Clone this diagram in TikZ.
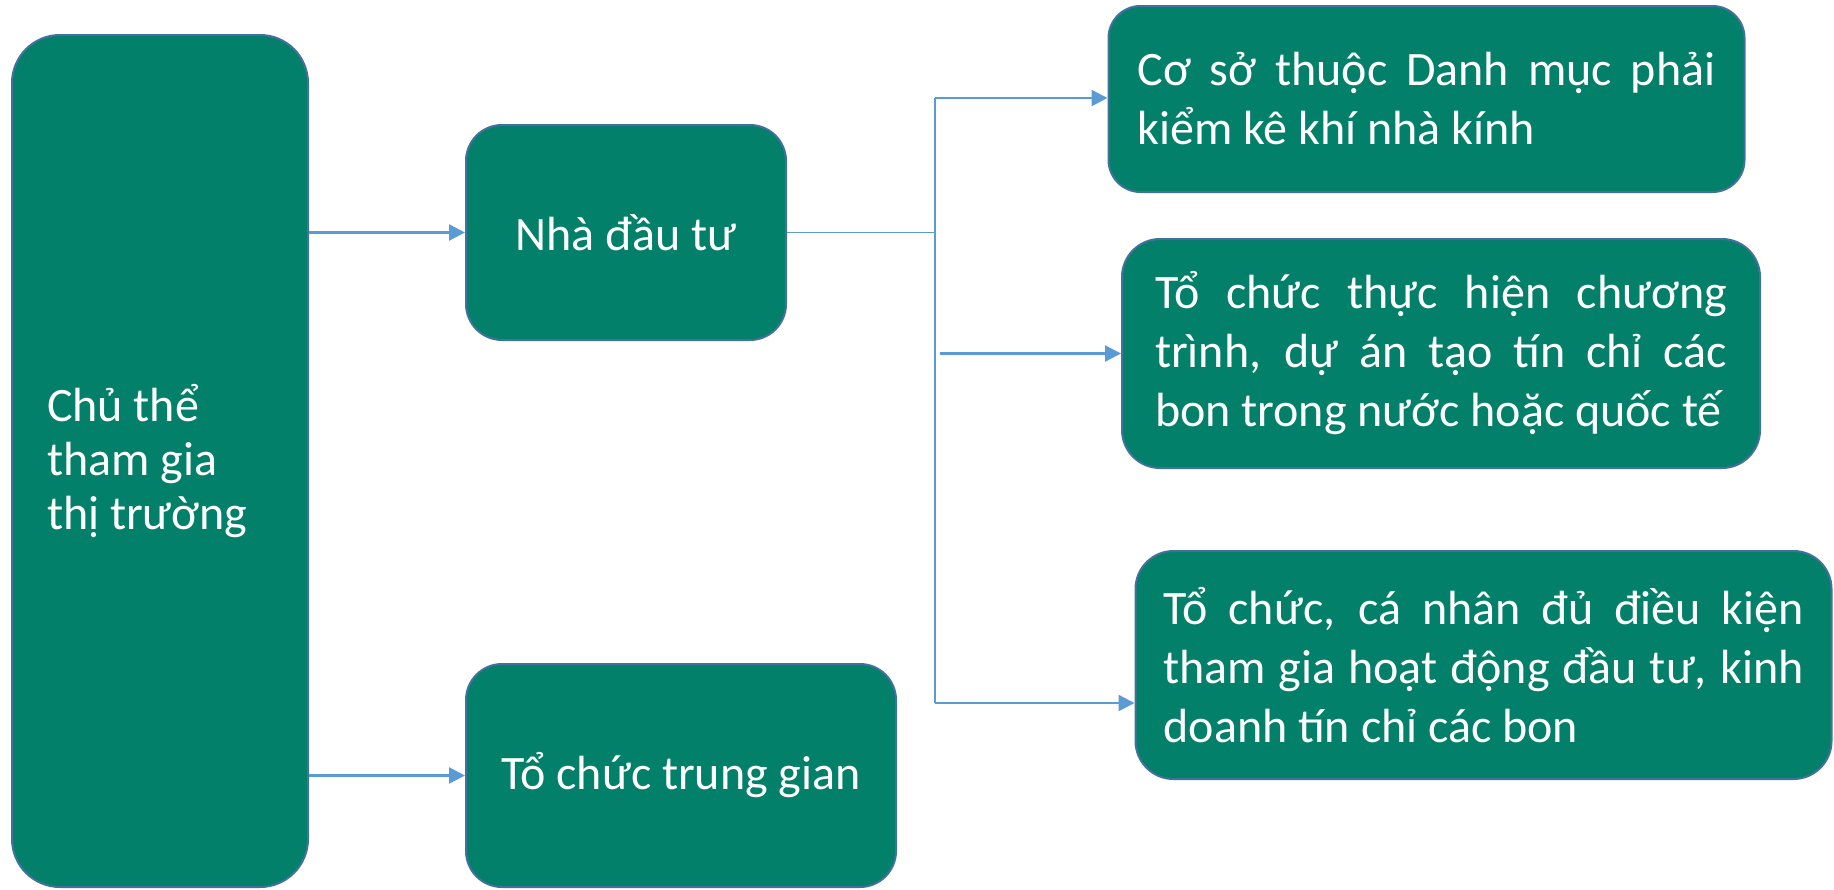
\documentclass[tikz,border=0pt]{standalone}
\usepackage{fontspec}
\setmainfont{Carlito}
\usetikzlibrary{arrows.meta}

\definecolor{boxgreen}{RGB}{2,128,106}
\definecolor{boxedge}{RGB}{65,113,156}
\definecolor{linkblue}{RGB}{91,155,213}

\begin{document}
\begin{tikzpicture}[x=0.5pt, y=-0.5pt,
  box/.style={draw=boxedge, line width=1pt, fill=boxgreen, text=white,
    font=\fontsize{24}{29.5}\selectfont, inner ysep=0pt},
  link/.style={draw=linkblue, line width=1.15pt, -{Triangle[length=8pt,width=8pt]}},
  bus/.style={draw=linkblue, line width=0.6pt}]
  % page frame
  \useasboundingbox (0,0) rectangle (1834,889);

  % left column
  \node[box, rounded corners=24pt, minimum height=426pt, text width=113pt, inner xsep=17.5pt,
    align=flush left, font=\fontsize{24}{27}\selectfont] (chuthe) at (160,461) {Chủ thể\\tham gia\\thị trường};

  % middle column
  \node[box, rounded corners=18pt, minimum width=160pt, minimum height=107.5pt] (nhadautu) at (626,232.5) {Nhà đầu tư};
  \node[box, rounded corners=18pt, minimum width=215pt, minimum height=111.5pt] (trunggian) at (681,775.5) {Tổ chức trung gian};

  % right column
  \node[box, rounded corners=16pt, text width=289pt, inner xsep=14.5pt, align=justify,
    minimum height=93pt] (coso) at (1426.5,99) {Cơ sở thuộc Danh mục phải\linebreak kiểm kê khí nhà kính};
  \node[box, rounded corners=19pt, text width=286pt, inner xsep=16.5pt, align=justify,
    minimum height=114.5pt] (thuchien) at (1441,353.5) {Tổ chức thực hiện chương\linebreak trình, dự án tạo tín chỉ các\linebreak bon trong nước hoặc quốc tế};
  \node[box, rounded corners=19pt, text width=320pt, inner xsep=14pt, align=justify,
    minimum height=114pt] (kinhdoanh) at (1483.5,665) {Tổ chức, cá nhân đủ điều kiện\linebreak tham gia hoạt động đầu tư, kinh\linebreak doanh tín chỉ các bon};

  % connectors
  \coordinate (bustop) at (935,98);
  \coordinate (busbot) at (935,703);
  \draw[link] (chuthe.east |- nhadautu.west) -- (nhadautu.west);
  \draw[link] (chuthe.east |- trunggian.west) -- (trunggian.west);
  \draw[bus] (nhadautu.east) -- (nhadautu.east -| bustop);
  \draw[bus] (bustop) -- (busbot);
  \draw[link] (bustop) -- (bustop -| coso.west);
  \draw[link] ([xshift=2.5pt]bustop |- thuchien.west) -- (thuchien.west);
  \draw[link] (busbot) -- (busbot -| kinhdoanh.west);
\end{tikzpicture}
\end{document}
